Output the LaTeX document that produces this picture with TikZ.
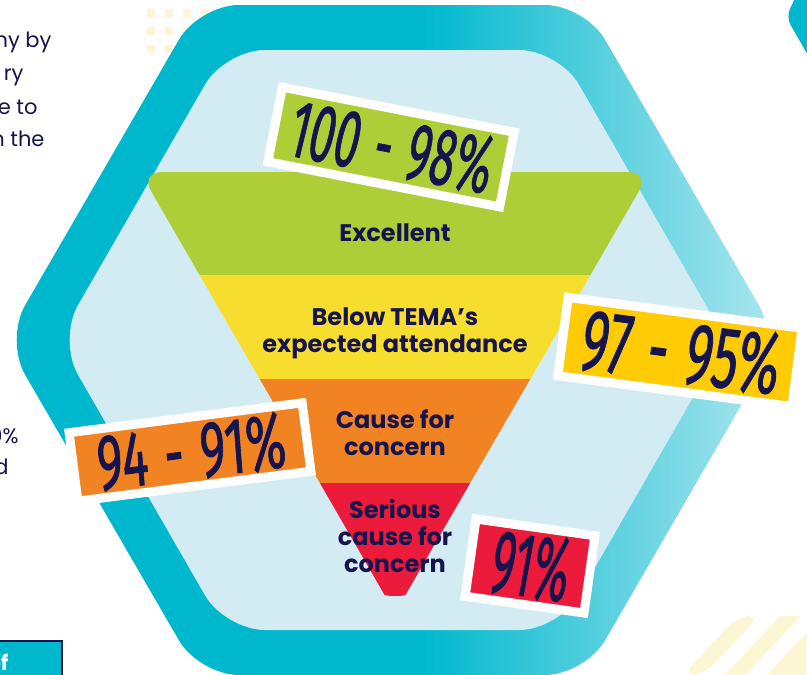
\documentclass[tikz,border=0pt]{standalone}
\usepackage{fontspec}
\usepackage{graphicx}
\setmainfont{Poppins}
\newfontfamily\brushfont[FakeSlant=0.08,FakeBold=1.2]{Fira Sans}
\definecolor{navy}{HTML}{16144C}
\definecolor{tealA}{HTML}{00B8CE}
\definecolor{tealB}{HTML}{B5E9F0}
\definecolor{pale}{HTML}{D3ECF3}
\definecolor{fgreen}{HTML}{AECE38}
\definecolor{fyellow}{HTML}{F7DE2E}
\definecolor{forange}{HTML}{F28322}
\definecolor{fred}{HTML}{EC1B3B}
\definecolor{sgold}{HTML}{FFCB05}
\definecolor{faint}{HTML}{FDF6D5}
\pgfdeclarehorizontalshading{ringshade}{100bp}{color(0bp)=(tealA); color(52bp)=(tealA); color(76bp)=(tealB); color(100bp)=(tealB)}
\tikzset{
  sticker/.style={draw=white, line width=9pt, inner sep=0pt},
  bandtext/.style={text=navy, font=\fontsize{24}{27}\selectfont\bfseries, align=center, anchor=base},
  sidetext/.style={text=navy, font=\fontsize{21}{25}\selectfont, anchor=base east}
}
\newcommand{\brushtxt}[3]{\resizebox{#1}{#2}{\brushfont\color{navy}#3}}
\begin{document}
\begin{tikzpicture}[x=1pt,y=-1pt]
\useasboundingbox (0,0) rectangle (807,675);
\clip (0,0) rectangle (807,675);
\fill[white] (0,0) rectangle (807,675);
% faint dots top-left
\foreach \xx in {147,165,183,201} \foreach \yy in {9,27,45} {
  \fill[faint] (\xx,\yy) rectangle ++(8,8);
}
% faint stripes bottom-right
\fill[faint, rounded corners=14pt] (683,675) -- (738,616) -- (760,616) -- (703,675) -- cycle;
\fill[faint] (725,675) -- (780,616) -- (801,616) -- (745,675) -- cycle;
\fill[faint] (767,675) -- (822,616) -- (850,616) -- (807,675) -- cycle;
% top-right teal shape
\fill[tealA, rounded corners=9pt] (800,-12) -- (786,17) -- (813,64) -- (840,64) -- (840,-12) -- cycle;
% left texts
\node[sidetext] (t1) at (55,47) {ny by};
\node[sidetext] (t2) at (27,80) {ry};
\node[sidetext] (t3) at (41,114) {e to};
\node[sidetext] (t4) at (48,146) {n the};
\node[sidetext] (t5) at (22,443) {0\%};
\node[sidetext] (t6) at (12,474) {d};
% bottom-left box
\draw[navy, line width=1.5pt, fill=tealA] (-10,641) rectangle (62,690);
\node[text=white, font=\fontsize{21}{25}\selectfont\bfseries, anchor=base east] (t7) at (12,670) {of};
% outer hexagon ring
\shade[shading=ringshade, rounded corners=40pt] (199,5) -- (585,5) -- (779,340) -- (585,675) -- (199,675) -- (5,340) -- cycle;
% inner hexagon
\fill[pale, rounded corners=40pt] (225,50) -- (559,50) -- (726,340) -- (559,630) -- (225,630) -- (58,340) -- cycle;
% funnel
\begin{scope}
\clip[rounded corners=22pt] (395,172) -- (650,172) -- (416.5,575.8) .. controls (404.7,596.3) and (385.3,596.3) .. (373.5,575.8) -- (140,172) -- cycle;
\fill[fgreen] (100,160) rectangle (700,275);
\fill[fyellow] (100,275) rectangle (700,379);
\fill[forange] (100,379) rectangle (700,483);
\fill[fred] (100,483) rectangle (700,620);
\end{scope}
\node[bandtext] (b1) at (395,241) {Excellent};
\node[bandtext] (b2) at (395,352) {Below TEMA’s\\expected attendance};
\node[bandtext] (b3) at (395,455) {Cause for\\concern};
\node[bandtext] (b4) at (395,572) {Serious\\cause for\\concern};
% stickers
\node[sticker, fill=fgreen, rotate=-11, minimum width=236pt, minimum height=76pt] (s1) at (391,147)
  {\brushtxt{205pt}{58pt}{100\,\,-\,\,98\%}};
\node[sticker, fill=sgold, rotate=-7.5, minimum width=236pt, minimum height=79pt] (s2) at (680,352)
  {\brushtxt{200pt}{62pt}{97\,\,-\,\,95\%}};
\node[sticker, fill=forange, rotate=7.3, minimum width=235pt, minimum height=69pt] (s3) at (190,452)
  {\brushtxt{190pt}{56pt}{94\,\,-\,\,91\%}};
\node[sticker, fill=fred, rotate=-8, minimum width=120pt, minimum height=78pt] (s4) at (530,566)
  {\brushtxt{78pt}{64pt}{91\%}};
\end{tikzpicture}
\end{document}
